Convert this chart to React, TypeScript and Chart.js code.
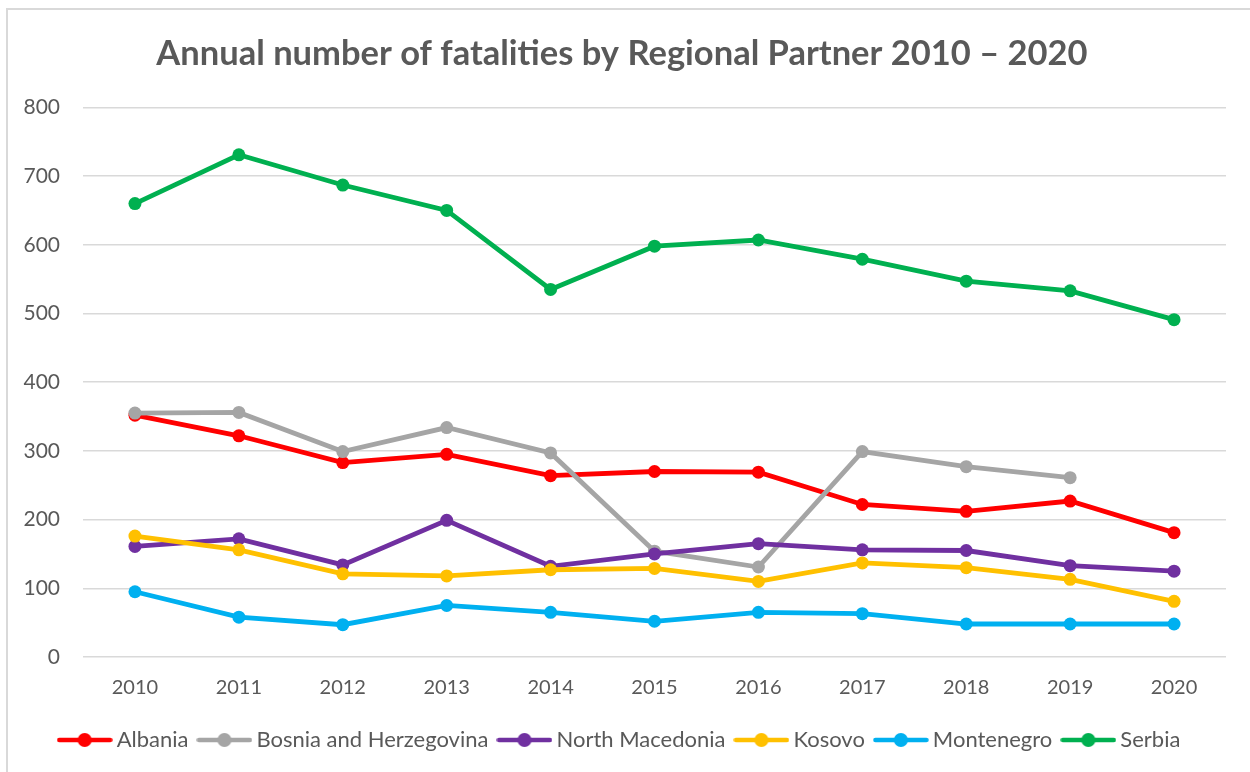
import React, { useEffect, useRef } from "react";
import { Chart, registerables } from "chart.js";

Chart.register(...registerables);

const years = ["2010", "2011", "2012", "2013", "2014", "2015", "2016", "2017", "2018", "2019", "2020"];
const albania = [352, 322, 283, 295, 264, 270, 269, 222, 212, 227, 181];
const bosnia = [355, 356, 299, 334, 297, 154, 131, 299, 277, 261, null];
const northMacedonia = [161, 172, 134, 199, 132, 150, 165, 156, 155, 133, 125];
const kosovo = [176, 156, 121, 118, 127, 129, 110, 137, 130, 113, 81];
const montenegro = [95, 58, 47, 75, 65, 52, 65, 63, 48, 48, 48];
const serbia = [660, 731, 687, 650, 535, 598, 607, 579, 547, 533, 491];

const seriesNames = ["Albania", "Bosnia and Herzegovina", "North Macedonia", "Kosovo", "Montenegro", "Serbia"];
const seriesColors = ["#FF0000", "#A5A5A5", "#7030A0", "#FFC000", "#00B0F0", "#00B050"];
const seriesData = [albania, bosnia, northMacedonia, kosovo, montenegro, serbia];

const FONT = "Lato, 'Open Sans', sans-serif";
const TEXT = "#595959";

function legendMarker(color: string): HTMLCanvasElement {
  const c = document.createElement("canvas");
  c.width = 56;
  c.height = 16;
  const ctx = c.getContext("2d")!;
  ctx.strokeStyle = color;
  ctx.lineWidth = 4.5;
  ctx.lineCap = "round";
  ctx.beginPath();
  ctx.moveTo(2.5, 8);
  ctx.lineTo(53.5, 8);
  ctx.stroke();
  ctx.fillStyle = color;
  ctx.beginPath();
  ctx.arc(28, 8, 7, 0, Math.PI * 2);
  ctx.fill();
  return c;
}

export default function App() {
  const ref = useRef<HTMLCanvasElement | null>(null);

  useEffect(() => {
    if (!ref.current) return;
    const markers = seriesColors.map(legendMarker);
    const chart = new Chart(ref.current, {
      type: "line",
      data: {
        labels: years,
        datasets: seriesNames.map((name, i) => ({
          label: name,
          data: seriesData[i],
          borderColor: seriesColors[i],
          backgroundColor: seriesColors[i],
          pointBackgroundColor: seriesColors[i],
          pointBorderColor: seriesColors[i],
          borderWidth: 4.8,
          pointStyle: "circle",
          pointRadius: 6.5,
          pointBorderWidth: 0,
          pointHoverRadius: 6.5,
          tension: 0,
          spanGaps: false,
          order: seriesNames.length - i,
        })) as any,
      },
      options: {
        responsive: false,
        animation: false,
        devicePixelRatio: 1,
        layout: { padding: { left: 18, right: 24, top: 0, bottom: 11 } },
        plugins: {
          title: {
            display: true,
            text: "Annual number of fatalities by Regional Partner 2010 – 2020",
            color: TEXT,
            font: { family: FONT, size: 34.5, weight: "bold" },
            padding: { top: 33, bottom: 33 },
          },
          legend: {
            position: "bottom",
            labels: {
              usePointStyle: true,
              pointStyleWidth: 42,
              padding: 15,
              color: TEXT,
              font: { family: FONT, size: 22 },
              sort: (a: any, b: any) => a.datasetIndex - b.datasetIndex,
              generateLabels: (ch: any) =>
                ch.data.datasets.map((ds: any, i: number) => ({
                  text: ds.label,
                  fillStyle: ds.borderColor,
                  strokeStyle: ds.borderColor,
                  lineWidth: 0,
                  pointStyle: markers[i],
                  datasetIndex: i,
                  hidden: false,
                  fontColor: TEXT,
                })),
            },
          },
          tooltip: { enabled: false },
        },
        scales: {
          x: {
            offset: true,
            grid: { display: false, drawTicks: false },
            border: { display: false },
            ticks: { color: TEXT, font: { family: FONT, size: 20 }, padding: 19 },
            afterFit: (s: any) => {
              s.height = 57;
            },
          },
          y: {
            min: 0,
            max: 800,
            grid: { color: "#D9D9D9", lineWidth: 1.5, drawTicks: false },
            border: { display: false },
            ticks: { stepSize: 100, color: TEXT, font: { family: FONT, size: 21 }, padding: 23 },
            afterFit: (s: any) => {
              s.width = 65;
            },
          },
        },
      } as any,
    });
    return () => chart.destroy();
  }, []);

  return (
    <div style={{ position: "absolute", left: 0, top: 0, width: 1250, height: 772, background: "#fff" }}>
      <canvas ref={ref} width={1250} height={772} style={{ position: "absolute", left: 0, top: 0 }} />
      <div
        style={{
          position: "absolute",
          left: 6,
          top: 8,
          right: 0,
          bottom: 0,
          borderLeft: "2px solid #D9D9D9",
          borderTop: "2px solid #D9D9D9",
          pointerEvents: "none",
        }}
      />
    </div>
  );
}
